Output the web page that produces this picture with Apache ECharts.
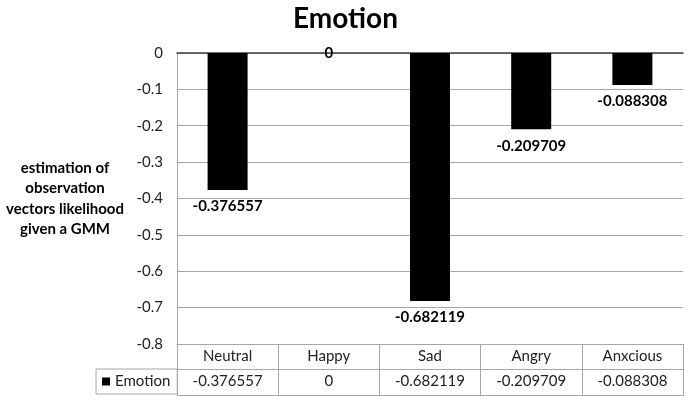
<!DOCTYPE html>
<html>
<head>
<meta charset="utf-8">
<script src="https://cdn.jsdelivr.net/npm/echarts@6/dist/echarts.min.js"></script>
<style>
html,body{margin:0;padding:0;background:#fff;}
#c{width:691px;height:400px;}
</style>
</head>
<body>
<div id="c"></div>
<script>
var categories = ['Neutral', 'Happy', 'Sad', 'Angry', 'Anxcious'];
var seriesName = 'Emotion';
var values = [-0.376557, 0, -0.682119, -0.209709, -0.088308];
var valueTexts = ['-0.376557', '0', '-0.682119', '-0.209709', '-0.088308'];
var yTickLabels = ['-0.8', '-0.7', '-0.6', '-0.5', '-0.4', '-0.3', '-0.2', '-0.1', '0'];
var yAxisTitle = 'estimation of\nobservation\nvectors likelihood\ngiven a GMM';
var chartTitle = 'Emotion';

var FONT = 'Lato, "Liberation Sans", sans-serif';
var GRID_C = '#a6a6a6';

var chart = echarts.init(document.getElementById('c'), null, {renderer: 'canvas'});
chart.setOption({
  animation: false,
  backgroundColor: '#fff',
  textStyle: {fontFamily: FONT},
  title: {
    text: chartTitle,
    left: 'center',
    top: 0,
    textStyle: {fontFamily: FONT, fontSize: 28, fontWeight: 'bold', color: '#000'}
  },
  legend: {
    show: true,
    data: [seriesName],
    left: 96,
    top: 369,
    orient: 'horizontal',
    icon: 'rect',
    itemWidth: 8,
    itemHeight: 8,
    itemGap: 0,
    padding: [5, 7, 5, 6],
    borderColor: GRID_C,
    borderWidth: 1,
    textStyle: {fontFamily: FONT, fontSize: 15, color: '#222'},
    selectedMode: false
  },
  grid: {left: 177, right: 8, top: 53, height: 291, containLabel: false},
  xAxis: [
    {
      type: 'category',
      data: categories,
      position: 'bottom',
      axisLine: {show: true, onZero: false, lineStyle: {color: GRID_C, width: 1}},
      axisTick: {show: true, length: 52, interval: 0, lineStyle: {color: GRID_C, width: 1}},
      axisLabel: {show: true, interval: 0, margin: 5, fontFamily: FONT, fontSize: 15, color: '#222'},
      splitLine: {show: false}
    },
    {
      type: 'category',
      data: valueTexts,
      position: 'bottom',
      offset: 25,
      axisLine: {show: true, onZero: false, lineStyle: {color: GRID_C, width: 1}},
      axisTick: {show: false},
      axisLabel: {show: true, interval: 0, margin: 5, fontFamily: FONT, fontSize: 15, color: '#222'},
      splitLine: {show: false}
    },
    {
      type: 'category',
      data: categories,
      position: 'bottom',
      offset: 51,
      axisLine: {show: true, onZero: false, lineStyle: {color: GRID_C, width: 1}},
      axisTick: {show: false},
      axisLabel: {show: false},
      splitLine: {show: false}
    },
    {
      type: 'category',
      data: categories,
      position: 'top',
      axisLine: {show: true, onZero: false, lineStyle: {color: '#404040', width: 1.5}},
      axisTick: {show: false},
      axisLabel: {show: false},
      splitLine: {show: false}
    }
  ],
  yAxis: {
    type: 'value',
    min: -0.8,
    max: 0,
    interval: 0.1,
    name: yAxisTitle,
    nameLocation: 'middle',
    nameRotate: 0,
    nameGap: 112,
    nameTextStyle: {
      align: 'center',
      verticalAlign: 'middle',
      fontFamily: FONT,
      fontWeight: 'bold',
      fontSize: 15,
      lineHeight: 20.5,
      color: '#000'
    },
    axisLine: {show: true, lineStyle: {color: GRID_C, width: 1}},
    axisTick: {show: false},
    axisLabel: {
      margin: 14,
      fontFamily: FONT,
      fontSize: 15,
      color: '#222',
      formatter: function (v, i) { return yTickLabels[i]; }
    },
    splitLine: {show: true, lineStyle: {color: GRID_C, width: 1}}
  },
  series: [{
    name: seriesName,
    type: 'bar',
    xAxisIndex: 0,
    barWidth: 40,
    itemStyle: {color: '#000'},
    data: values.map(function (v, i) {
      return {
        value: v,
        label: {position: v === 0 ? 'inside' : 'bottom'}
      };
    }),
    label: {
      show: true,
      position: 'bottom',
      distance: 9,
      fontFamily: FONT,
      fontSize: 15,
      fontWeight: 'bold',
      color: '#000',
      formatter: function (p) { return valueTexts[p.dataIndex]; }
    }
  }]
});
</script>
</body>
</html>
